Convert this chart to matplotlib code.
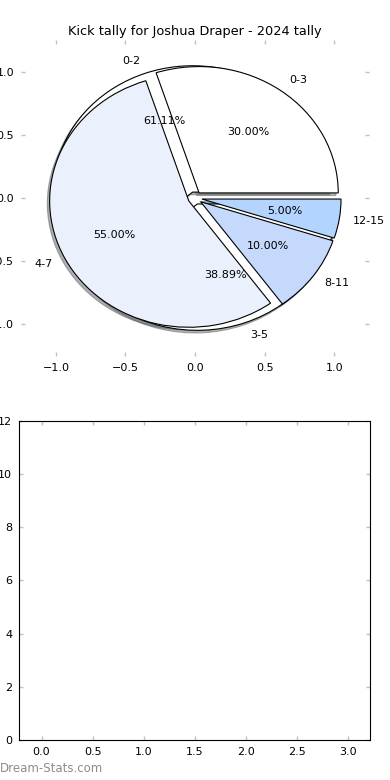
import matplotlib
matplotlib.use('Agg')
import matplotlib.pyplot as plt

# Kick tally buckets (outer series)
kick_labels = ['0-3', '4-7', '8-11', '12-15']
kick_values = [30.0, 55.0, 10.0, 5.0]
kick_colors = ['#ffffff', '#eaf1fd', '#c5d9fd', '#b3d4ff']

# second series drawn underneath
sub_labels = ['0-2', '3-5']
sub_values = [61.11, 38.89]
sub_colors = ['#ffffff', '#ffffff']

x_ticks_top = [-1.0, -0.5, 0.0, 0.5, 1.0]
y_ticks_top = [-1.0, -0.5, 0.0, 0.5, 1.0]
x_ticks_bottom = [0.0, 0.5, 1.0, 1.5, 2.0, 2.5, 3.0]
y_ticks_bottom = [0, 2, 4, 6, 8, 10, 12]

plt.rcParams['font.family'] = 'DejaVu Sans'
plt.rcParams['font.size'] = 8

fig = plt.figure(figsize=(3.9, 7.8), dpi=100)
ax1 = fig.add_axes([0.054, 0.5436, 0.892, 0.405])
ax2 = fig.add_axes([0.049, 0.0513, 0.9, 0.409])

wp = dict(edgecolor='black', linewidth=0.8)
shad = dict(ox=-0.012, oy=-0.015, shade=0.6)
ax1.pie(sub_values, labels=sub_labels, colors=sub_colors, explode=[0.05] * 2,
        autopct='%1.2f%%', shadow=shad, wedgeprops=wp, textprops=dict(fontsize=8))
ax1.pie(kick_values, labels=kick_labels, colors=kick_colors, explode=[0.05] * 4,
        autopct='%1.2f%%', shadow=shad, wedgeprops=wp, textprops=dict(fontsize=8))
ax1.set_aspect('auto')
ax1.set_frame_on(False)
ax1.set_xlim(-1.25, 1.25)
ax1.set_ylim(-1.25, 1.25)
ax1.set_xticks(x_ticks_top)
ax1.set_yticks(y_ticks_top)
ax1.set_title('Kick tally for Joshua Draper - 2024 tally', fontsize=9.3, pad=4)

ax2.set_xlim(-0.22, 3.22)
ax2.set_ylim(0, 12)
ax2.set_xticks(x_ticks_bottom)
ax2.set_yticks(y_ticks_bottom)

for ax in (ax1, ax2):
    ax.tick_params(direction='in', length=3, width=1, color='#c0c0c0',
                   top=True, right=True, labelsize=8, pad=5)

fig.text(0.0, 0.006, 'Dream-Stats.com', color='#8c8c8c', fontsize=8.5,
         ha='left', va='bottom')

fig.savefig('out.png', dpi=100)
